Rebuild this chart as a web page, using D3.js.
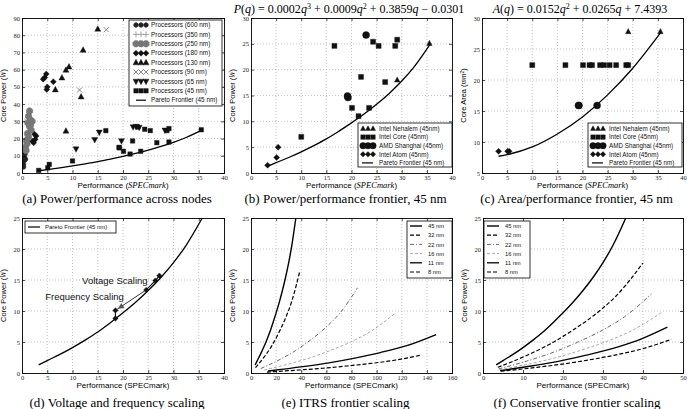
<!DOCTYPE html>
<html><head><meta charset="utf-8">
<script src="https://cdn.jsdelivr.net/npm/d3@7"></script>
<style>body{margin:0;background:#fff}svg{display:block}</style>
</head><body>
<script>
// ---------- DATA ----------
const paretoFrontier = [[3.3,1.3],[5,2.0],[7.5,3.0],[10,4.1],[12.5,5.3],[15,6.6],[17.5,8.1],[20,9.7],[22.5,11.4],[25,13.3],[27.5,15.4],[30,17.8],[32.5,20.6],[35.7,25.0]];
const areaFrontier = [[3.3,7.7],[5,7.95],[10,9.2],[15,11.3],[20,14.05],[25,17.6],[30,21.9],[35.7,27.8]];

const p600 = [[0.3,5],[0.4,7],[0.5,9],[0.6,11],[0.4,12.5],[0.7,8],[0.3,3.5]];
const p350 = [[1.2,33],[1.5,28],[1.0,22],[0.8,18],[1.7,25],[0.6,30]];
const p250 = [[1.5,36],[1.3,33],[1.6,31],[1.2,29],[1.5,27],[1.8,25],[1.1,23],[1.3,21],[0.9,19],[1.0,17],[0.7,15],[0.8,13],[1.7,28],[2.0,30]];
const p180 = [[4.8,57.5],[4.5,55.5],[4.2,54.5],[6.2,53],[5.0,50],[4.9,48.5],[2.3,17.5],[2.6,19.5],[2.8,21.5],[2.1,18.5],[2.5,22.5]];
const p130 = [[15,83.6],[12.1,71.4],[9.3,61.7],[8.7,59.8],[7.9,55.3],[6.6,48.4],[11.7,44.3],[8.7,24.4]];
const p90 = [[16.7,83.2],[11.4,48.2]];
const p65 = [[10.7,13.9],[14.4,19.3],[15.3,23.6],[19.7,18.6],[22.0,26.7],[22.6,27.0],[23.2,26.4],[28.3,24.8]];

const atomPerf = [3.3,5.1,5.4], atomPower = [1.5,3.0,5.0], atomArea = [8.5,8.5,8.5];
const amdPerf = [19.2,19.3,22.9], amdPower = [14.9,14.6,26.7], amdArea = [15.9,15.9,15.9];
const corePerf = [10,16.6,20.1,21.4,21.9,23.5,24.3,25.4,26.7,28.7,29.1];
const corePower = [7.0,24.6,12.6,11.0,18.6,12.6,25.4,24.6,17.6,24.6,25.8];
const coreArea = [22.4,22.4,22.4,22.4,22.4,22.4,22.4,22.4,22.4,22.4,22.4];
const nehPerf = [29.1,35.5], nehPower = [18.0,25.1], nehArea = [27.8,27.8];

const vfPoints = [[18.5,8.8],[18.5,10.1],[24.6,13.4],[26.4,14.9],[27.2,15.7]];
const vfLabels = [{t:"Voltage Scaling", q:11.9, p:14.4},{t:"Frequency Scaling", q:4.6, p:11.7}];

const itrs45 = paretoFrontier;
const itrs32 = [[3.6,0.85],[10.8,2.67],[16.3,4.30],[21.7,6.32],[27.1,8.67],[32.5,11.6],[38.7,16.3]];
const itrs22 = [[7.8,0.72],[23.8,2.26],[35.6,3.63],[47.5,5.34],[59.4,7.32],[71.3,9.79],[84.8,13.75]];
const itrs16 = [[10.5,0.49],[31.9,1.56],[47.9,2.51],[63.8,3.69],[79.8,5.05],[95.7,6.76],[113.9,9.5]];
const itrs11 = [[13.6,0.32],[41.3,1.02],[62,1.64],[82.6,2.41],[103,3.30],[124,4.41],[147.4,6.2]];
const itrs8  = [[12.6,0.15],[38.1,0.48],[57.2,0.77],[76.2,1.13],[95.3,1.54],[114.3,2.06],[136,2.9]];

const cons45 = paretoFrontier;
const cons32 = [[3.7,0.92],[11.2,2.91],[16.8,4.69],[22.4,6.89],[28,9.44],[33.6,12.64],[40,17.75]];
const cons22 = [[3.9,0.66],[11.8,2.09],[17.7,3.37],[23.6,4.95],[29.5,6.78],[35.4,9.08],[42.1,12.75]];
const cons16 = [[4.1,0.51],[12.5,1.60],[18.8,2.57],[25,3.78],[31.3,5.19],[37.5,6.94],[44.6,9.75]];
const cons11 = [[4.3,0.38],[12.9,1.21],[19.4,1.95],[25.8,2.87],[32.3,3.94],[38.7,5.27],[46.1,7.4]];
const cons8  = [[4.4,0.28],[13.2,0.89],[19.8,1.43],[26.4,2.10],[33,2.89],[39.6,3.86],[47.1,5.43]];

const nodeLabels = ["45 nm","32 nm","22 nm","16 nm","11 nm","8 nm"];
const ticks0to40 = [0,5,10,15,20,25,30,35,40];

// ---------- DRAWING ----------
const svg = d3.select("body").append("svg").attr("width",687).attr("height",409);
const SERIF = "'Liberation Serif','DejaVu Serif',serif";
const SANS = "'Liberation Sans','DejaVu Sans',sans-serif";
let clipId = 0;

function panel(c){
  const xs = d3.scaleLinear().domain(c.xd).range([c.x0,c.x1]);
  const ys = d3.scaleLinear().domain(c.yd).range([c.y1,c.y0]);
  const g = svg.append("g");
  g.selectAll(null).data(c.xt.slice(1,-1)).join("line")
    .attr("x1",d=>xs(d)).attr("x2",d=>xs(d)).attr("y1",c.y0).attr("y2",c.y1)
    .attr("stroke","#999").attr("stroke-width",0.6).attr("stroke-dasharray","1,2");
  g.selectAll(null).data(c.yt.slice(1,-1)).join("line")
    .attr("y1",d=>ys(d)).attr("y2",d=>ys(d)).attr("x1",c.x0).attr("x2",c.x1)
    .attr("stroke","#999").attr("stroke-width",0.6).attr("stroke-dasharray","1,2");
  const id = "clip"+(clipId++);
  svg.append("clipPath").attr("id",id).append("rect")
    .attr("x",c.x0).attr("y",c.y0).attr("width",c.x1-c.x0).attr("height",c.y1-c.y0);
  const plot = g.append("g").attr("clip-path",`url(#${id})`);
  const top = g.append("g");
  const fmt = d=>d;
  top.append("g").attr("transform",`translate(0,${c.y1})`)
    .call(d3.axisBottom(xs).tickValues(c.xt).tickSize(-3).tickPadding(2).tickFormat(fmt));
  top.append("g").attr("transform",`translate(0,${c.y0})`)
    .call(d3.axisTop(xs).tickValues(c.xt).tickSize(-3).tickFormat(""));
  top.append("g").attr("transform",`translate(${c.x0},0)`)
    .call(d3.axisLeft(ys).tickValues(c.yt).tickSize(-3).tickPadding(2).tickFormat(fmt));
  top.append("g").attr("transform",`translate(${c.x1},0)`)
    .call(d3.axisRight(ys).tickValues(c.yt).tickSize(-3).tickFormat(""));
  top.selectAll(".domain").attr("stroke","#000").attr("stroke-width",0.9);
  top.selectAll(".tick line").attr("stroke","#000").attr("stroke-width",0.7);
  top.selectAll(".tick text").attr("font-family",SERIF).attr("font-size",6.5).attr("fill","#222");
  const xl = g.append("text").attr("x",(c.x0+c.x1)/2).attr("y",c.y1+15)
    .attr("text-anchor","middle").attr("font-family",SANS).attr("font-size",8);
  if(c.xItal){ xl.append("tspan").text("Performance ("); xl.append("tspan").attr("font-family",SERIF).attr("font-style","italic").attr("font-size",8.5).text("SPECmark"); xl.append("tspan").text(")"); }
  else xl.text("Performance (SPECmark)");
  const yl = g.append("text").attr("transform",`translate(${c.x0-16},${(c.y0+c.y1)/2}) rotate(-90)`)
    .attr("text-anchor","middle").attr("font-family",SANS).attr("font-size",7.5);
  if(c.area){ yl.append("tspan").text("Core Area ("); yl.append("tspan").attr("font-family",SERIF).attr("font-style","italic").text("mm"); yl.append("tspan").attr("dy",-2.5).attr("font-size",5).text("2"); yl.append("tspan").attr("dy",2.5).text(")"); }
  else { yl.append("tspan").text("Core Power ("); yl.append("tspan").attr("font-family",SERIF).attr("font-style","italic").text("W"); yl.append("tspan").text(")"); }
  g.append("text").attr("x",(c.x0+c.x1)/2 - 6).attr("y",c.capY).attr("text-anchor","middle")
    .attr("font-family",SERIF).attr("font-size",13).text(c.caption);
  return {g,plot,top,xs,ys,c};
}

function symPath(type,s){
  const r=s/2;
  switch(type){
    case "sq": return `M${-r},${-r}h${s}v${s}h${-s}Z`;
    case "dia": return `M0,${-r*1.2}L${r*1.2},0L0,${r*1.2}L${-r*1.2},0Z`;
    case "tri": return `M0,${-r*1.1}L${r},${r*0.75}L${-r},${r*0.75}Z`;
    case "tridown": return `M0,${r*1.1}L${r},${-r*0.75}L${-r},${-r*0.75}Z`;
    case "circ": return d3.symbol(d3.symbolCircle, Math.PI*r*r)();
    case "oct": { let p=""; for(let i=0;i<8;i++){const a=Math.PI/8+i*Math.PI/4; p+=(i?"L":"M")+(r*Math.cos(a)).toFixed(2)+","+(r*Math.sin(a)).toFixed(2);} return p+"Z"; }
    case "plus": return `M${-r},0H${r}M0,${-r}V${r}`;
    case "x": return `M${-r},${-r}L${r},${r}M${-r},${r}L${r},${-r}`;
  }
}
function marks(g, pts, type, size, color){
  const stroke = (type==="plus"||type==="x");
  g.selectAll(null).data(pts).join("path")
    .attr("transform",d=>`translate(${d[0]},${d[1]})`)
    .attr("d",symPath(type,size))
    .attr("fill",stroke?"none":color).attr("stroke",color).attr("stroke-width",stroke?0.9:0.4);
}
function curve(P, data, style){
  const line = d3.line().x(d=>P.xs(d[0])).y(d=>P.ys(d[1])).curve(d3.curveMonotoneX);
  P.plot.append("path").datum(data).attr("d",line).attr("fill","none")
    .attr("stroke",style.color||"#000").attr("stroke-width",style.w||1.3)
    .attr("stroke-dasharray",style.dash||null);
}
function legendBox(P, x, y, w, h){
  P.top.append("rect").attr("x",x).attr("y",y).attr("width",w).attr("height",h)
    .attr("fill","#fff").attr("stroke","#000").attr("stroke-width",0.8);
}
function legText(P, x, y, t, fs){
  P.top.append("text").attr("x",x).attr("y",y+2.2).attr("font-family",SANS).attr("font-size",fs||6).attr("fill","#111").text(t);
}
function legLine(P, x1, x2, y, style){
  P.top.append("line").attr("x1",x1).attr("x2",x2).attr("y1",y).attr("y2",y)
    .attr("stroke",style.color||"#000").attr("stroke-width",style.w||1.3).attr("stroke-dasharray",style.dash||null);
}
function legMarks(P, x, y, type, size, color){
  marks(P.top, [[x,y],[x+5,y],[x+10,y]], type, size, color);
}
const zipP = (a,b)=>a.map((v,i)=>[v,b[i]]);

// ---- (a) ----
const A = panel({x0:22,x1:224,y0:18,y1:173,xd:[0,40],yd:[0,90],xt:ticks0to40,yt:d3.range(0,91,10),xItal:true,caption:"(a) Power/performance across nodes",capY:202.5});
const pa = d=>[A.xs(d[0]),A.ys(d[1])];
curve(A, paretoFrontier, {w:1.3});
marks(A.plot, p600.map(pa), "oct", 5, "#222");
marks(A.plot, p350.map(pa), "plus", 6, "#999");
marks(A.plot, p250.map(pa), "oct", 7, "#777");
marks(A.plot, p180.map(pa), "dia", 5, "#111");
marks(A.plot, p130.map(pa), "tri", 6, "#111");
marks(A.plot, p90.map(pa), "x", 5, "#777");
marks(A.plot, p65.map(pa), "tridown", 6, "#111");
const p45all = [...zipP(atomPerf,atomPower),...zipP(amdPerf,amdPower),...zipP(corePerf,corePower),...zipP(nehPerf,nehPower)];
marks(A.plot, p45all.map(pa), "sq", 4.5, "#111");
legendBox(A,129,20,93,86);
const legA = [["oct",5,"#222","Processors (600 nm)"],["plus",6,"#999","Processors (350 nm)"],["oct",7,"#777","Processors (250 nm)"],["dia",5,"#111","Processors (180 nm)"],["tri",6,"#111","Processors (130 nm)"],["x",5,"#777","Processors (90 nm)"],["tridown",6,"#111","Processors (65 nm)"],["sq",4.5,"#111","Processors (45 nm)"]];
legA.forEach((e,i)=>{const y=25+i*9.4; legMarks(A,136,y,e[0],e[1],e[2]); legText(A,151,y,e[3],6.4);});
legLine(A,136,146,25+8*9.4,{w:1.2}); legText(A,151,25+8*9.4,"Pareto Frontier (45 nm)",6.4);

// ---- (b) ----
const B = panel({x0:251,x1:452,y0:18,y1:173,xd:[0,40],yd:[0,30],xt:ticks0to40,yt:d3.range(0,31,5),xItal:true,caption:"(b) Power/performance frontier, 45 nm",capY:202.5});
const pb = d=>[B.xs(d[0]),B.ys(d[1])];
curve(B, paretoFrontier, {w:1.3});
marks(B.plot, zipP(nehPerf,nehPower).map(pb), "tri", 5.5, "#111");
marks(B.plot, zipP(corePerf,corePower).map(pb), "sq", 5, "#111");
marks(B.plot, zipP(amdPerf,amdPower).map(pb), "circ", 7, "#111");
marks(B.plot, zipP(atomPerf,atomPower).map(pb), "dia", 5, "#111");
function legend45(P, x, y){
  legendBox(P,x,y,94,44);
  const e=[["tri",5,"Intel Nehalem (45nm)"],["sq",4.5,"Intel Core (45nm)"],["circ",6.5,"AMD Shanghai (45nm)"],["dia",4.5,"Intel Atom (45nm)"]];
  e.forEach((d,i)=>{const yy=y+5.5+i*8.6; legMarks(P,x+5,yy,d[0],d[1],"#111"); legText(P,x+21,yy,d[2],6.3);});
  legLine(P,x+4,x+15,y+5.5+4*8.6,{w:1.2}); legText(P,x+21,y+5.5+4*8.6,"Pareto Frontier (45 nm)",6.3);
}
legend45(B,358,123);
function mathTitle(cx, y, parts){
  const t = svg.append("text").attr("x",cx).attr("y",y).attr("text-anchor","middle").attr("font-family",SERIF).attr("font-size",12);
  parts.forEach(p=>{
    const s=t.append("tspan").text(p[0]);
    if(p[1]==="i") s.attr("font-style","italic");
    if(p[1]==="sup") s.attr("dy",-4).attr("font-size",8);
    if(p[1]==="un") s.attr("dy",4);
  });
}
mathTitle(349,13,[["P","i"],["("],["q","i"],[") = 0.0002"],["q","i"],["3","sup"],[" + 0.0009","un"],["q","i"],["2","sup"],[" + 0.3859","un"],["q","i"],[" − 0.0301"]]);

// ---- (c) ----
const C = panel({x0:482,x1:683,y0:18,y1:173,xd:[0,40],yd:[5,30],xt:ticks0to40,yt:d3.range(5,31,5),xItal:true,area:true,caption:"(c) Area/performance frontier, 45 nm",capY:202.5});
const pc = d=>[C.xs(d[0]),C.ys(d[1])];
curve(C, areaFrontier, {w:1.3});
marks(C.plot, zipP(nehPerf,nehArea).map(pc), "tri", 5.5, "#111");
marks(C.plot, zipP(corePerf,coreArea).map(pc), "sq", 5, "#111");
marks(C.plot, zipP(amdPerf,amdArea).map(pc), "circ", 7, "#111");
marks(C.plot, zipP(atomPerf,atomArea).map(pc), "dia", 5, "#111");
legend45(C,588,123);
mathTitle(580,13,[["A","i"],["("],["q","i"],[") = 0.0152"],["q","i"],["2","sup"],[" + 0.0265","un"],["q","i"],[" + 7.4393"]]);

// ---- (d) ----
const D = panel({x0:22,x1:224,y0:218,y1:373,xd:[0,40],yd:[0,25],xt:ticks0to40,yt:d3.range(0,26,5),xItal:false,caption:"(d) Voltage and frequency scaling",capY:407});
const pd = d=>[D.xs(d[0]),D.ys(d[1])];
curve(D, paretoFrontier, {w:1.3});
const dl = d3.line().x(d=>D.xs(d[0])).y(d=>D.ys(d[1]));
D.plot.append("path").datum([vfPoints[0],vfPoints[1]]).attr("d",dl).attr("stroke","#111").attr("stroke-width",1.2).attr("fill","none");
D.plot.append("path").datum([vfPoints[2],vfPoints[3],vfPoints[4]]).attr("d",dl).attr("stroke","#111").attr("stroke-width",1.2).attr("fill","none");
D.plot.append("path").datum([vfPoints[2],vfPoints[1]]).attr("d",dl).attr("stroke","#333").attr("stroke-width",1).attr("fill","none");
{
  const a=pd(vfPoints[2]), b=pd(vfPoints[1]);
  const ang=Math.atan2(b[1]-a[1],b[0]-a[0]);
  const tip=[b[0]-Math.cos(ang)*3,b[1]-Math.sin(ang)*3], L=6, Wd=3;
  const bx=tip[0]-Math.cos(ang)*L, by=tip[1]-Math.sin(ang)*L;
  D.plot.append("path").attr("d",`M${tip[0]},${tip[1]}L${bx-Math.sin(ang)*Wd},${by+Math.cos(ang)*Wd}L${bx+Math.sin(ang)*Wd},${by-Math.cos(ang)*Wd}Z`).attr("fill","#555");
}
marks(D.plot, vfPoints.map(pd), "dia", 4.5, "#111");
vfLabels.forEach(l=>D.top.append("text").attr("x",D.xs(l.q)).attr("y",D.ys(l.p)).attr("font-family",SANS).attr("font-size",9.5).attr("fill","#111").text(l.t));
legendBox(D,25,221,91,12);
legLine(D,28,40,227,{w:1.2}); legText(D,45,227,"Pareto Frontier (45 nm)",6);

// ---- (e),(f) ----
const nodeStyles = [{w:1.4},{w:1.2,dash:"4,2"},{w:1,color:"#666",dash:"4,2,1,2"},{w:1,color:"#aaa",dash:"3,2"},{w:1.3},{w:1.2,dash:"4,2"}];
const E = panel({x0:251,x1:452,y0:218,y1:373,xd:[0,160],yd:[0,25],xt:d3.range(0,161,20),yt:d3.range(0,26,5),xItal:false,caption:"(e) ITRS frontier scaling",capY:407});
[itrs45,itrs32,itrs22,itrs16,itrs11,itrs8].forEach((d,i)=>curve(E,d,nodeStyles[i]));
legendBox(E,407,221,45,57);
nodeLabels.forEach((t,i)=>{const y=226+i*9.2; legLine(E,410,422,y,nodeStyles[i]); legText(E,428,y,t,5.8);});

const F = panel({x0:483,x1:683,y0:218,y1:373,xd:[0,50],yd:[0,25],xt:d3.range(0,51,10),yt:d3.range(0,26,5),xItal:false,caption:"(f) Conservative frontier scaling",capY:407});
[cons45,cons32,cons22,cons16,cons11,cons8].forEach((d,i)=>curve(F,d,nodeStyles[i]));
legendBox(F,484,221,46,57);
nodeLabels.forEach((t,i)=>{const y=226+i*9.2; legLine(F,487,499,y,nodeStyles[i]); legText(F,505,y,t,5.8);});
</script>
</body></html>
